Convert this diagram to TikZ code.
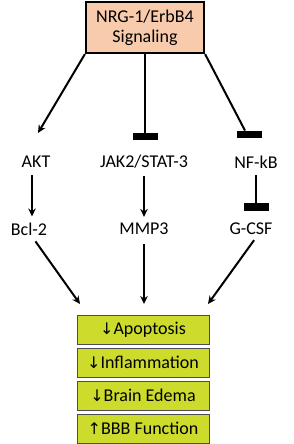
\documentclass[tikz,border=0pt]{standalone}
\usepackage{fontspec}
\setmainfont{Carlito}
\newfontfamily\arrowfont{DejaVu Sans}
\usetikzlibrary{arrows.meta}
\definecolor{peach}{RGB}{248,203,173}
\definecolor{lime}{RGB}{204,219,44}
\newcommand{\dn}{{\arrowfont\fontsize{16}{18}\selectfont ↓}}
\newcommand{\up}{{\arrowfont\fontsize{16}{18}\selectfont ↑}}
\begin{document}
\begin{tikzpicture}[
  x=1pt, y=-1pt,
  every node/.style={font=\fontsize{18}{20}\selectfont},
  label/.style={inner sep=1pt},
  source/.style={draw, line width=2.2pt, fill=peach, minimum width=118pt, minimum height=51pt, align=center, inner sep=1pt},
  result/.style={draw=black!70, line width=1pt, fill=lime, minimum width=132pt, minimum height=29pt, inner sep=1pt},
  bar/.style={fill=black, minimum width=25pt, minimum height=7.5pt, inner sep=0pt},
  act/.style={line width=2pt, -{Stealth[length=8pt,width=7.5pt]}},
  inh/.style={line width=2pt}
]
\useasboundingbox (0,0) rectangle (293,444);

\node[source] (sig) at (145,27.5) {NRG-1/ErbB4\\Signaling};

\node[label] (akt) at (36,162) {AKT};
\node[label] (jak) at (144,162) {JAK2/STAT-3};
\node[label] (nfkb) at (256,162) {NF-kB};
\node[label] (bcl) at (29,229) {Bcl-2};
\node[label] (mmp) at (144,229) {MMP3};
\node[label] (gcsf) at (251,229) {G-CSF};

\node[bar] (barjak) at (145,136.5) {};
\node[bar] (barnf) at (249,134.5) {};
\node[bar] (bargcsf) at (256,207) {};

\node[result] (apop) at (143,330) {\dn Apoptosis};
\node[result] (infl) at (143,362.5) {\dn Inflammation};
\node[result] (edema) at (143,395.5) {\dn Brain Edema};
\node[result] (bbb) at (143,428.5) {\up BBB Function};

\coordinate (toakt) at (38,133);
\coordinate (into1) at (80,304);
\coordinate (into2) at (144,304);
\coordinate (into3) at (208,304);

\draw[act] (sig.south west) -- (toakt);
\draw[inh] (sig.south) -- (barjak.north);
\draw[inh] (sig.south east) -- ([xshift=-4pt]barnf.north);

\draw[act, shorten <=6pt, shorten >=5pt] ([xshift=-4pt]akt.south) -- ([xshift=3pt]bcl.north);
\draw[act, shorten <=6pt, shorten >=5pt] (jak.south) -- (mmp.north);
\draw[inh, shorten <=6pt] (nfkb.south) -- (bargcsf.north);

\draw[act, shorten <=6pt] ([xshift=3pt]bcl.south) -- (into1);
\draw[act, shorten <=8pt] (mmp.south) -- (into2);
\draw[act, shorten <=5pt] ([xshift=6pt]gcsf.south) -- (into3);
\end{tikzpicture}
\end{document}
